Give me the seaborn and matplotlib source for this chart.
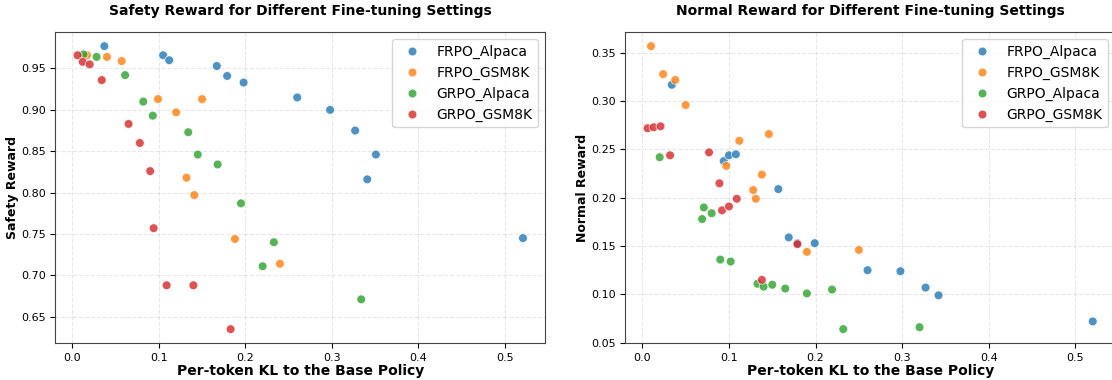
import numpy as np
import pandas as pd
import matplotlib
matplotlib.use("Agg")
import matplotlib.pyplot as plt
import seaborn as sns

methods = ["FRPO_Alpaca", "FRPO_GSM8K", "GRPO_Alpaca", "GRPO_GSM8K"]

# Safety panel
safety_frpo_alpaca_kl = [0.037, 0.105, 0.112, 0.167, 0.179, 0.198, 0.260, 0.298, 0.327, 0.351, 0.341, 0.521]
safety_frpo_alpaca_r = [0.977, 0.966, 0.960, 0.953, 0.941, 0.933, 0.915, 0.900, 0.875, 0.846, 0.816, 0.745]
safety_frpo_gsm_kl = [0.017, 0.040, 0.057, 0.099, 0.150, 0.120, 0.132, 0.141, 0.188, 0.240]
safety_frpo_gsm_r = [0.966, 0.964, 0.959, 0.913, 0.913, 0.897, 0.818, 0.797, 0.744, 0.714]
safety_grpo_alpaca_kl = [0.013, 0.028, 0.061, 0.082, 0.093, 0.134, 0.145, 0.168, 0.195, 0.233, 0.220, 0.334]
safety_grpo_alpaca_r = [0.967, 0.964, 0.942, 0.910, 0.893, 0.873, 0.846, 0.834, 0.787, 0.740, 0.711, 0.671]
safety_grpo_gsm_kl = [0.006, 0.012, 0.020, 0.034, 0.065, 0.078, 0.090, 0.094, 0.109, 0.140, 0.183]
safety_grpo_gsm_r = [0.966, 0.958, 0.955, 0.936, 0.883, 0.860, 0.826, 0.757, 0.688, 0.688, 0.635]

# Normal panel
normal_frpo_alpaca_kl = [0.034, 0.094, 0.100, 0.108, 0.157, 0.169, 0.179, 0.199, 0.260, 0.298, 0.327, 0.342, 0.520]
normal_frpo_alpaca_r = [0.317, 0.238, 0.244, 0.245, 0.209, 0.159, 0.153, 0.153, 0.125, 0.124, 0.107, 0.099, 0.072]
normal_frpo_gsm_kl = [0.010, 0.024, 0.038, 0.050, 0.146, 0.112, 0.097, 0.138, 0.128, 0.131, 0.190, 0.250]
normal_frpo_gsm_r = [0.357, 0.328, 0.322, 0.296, 0.266, 0.259, 0.233, 0.224, 0.208, 0.199, 0.144, 0.146]
normal_grpo_alpaca_kl = [0.020, 0.071, 0.080, 0.069, 0.090, 0.102, 0.133, 0.140, 0.150, 0.165, 0.190, 0.219, 0.232, 0.320]
normal_grpo_alpaca_r = [0.242, 0.190, 0.184, 0.178, 0.136, 0.134, 0.111, 0.108, 0.110, 0.106, 0.101, 0.105, 0.064, 0.066]
normal_grpo_gsm_kl = [0.006, 0.013, 0.021, 0.032, 0.077, 0.089, 0.109, 0.092, 0.100, 0.179, 0.138]
normal_grpo_gsm_r = [0.272, 0.273, 0.274, 0.244, 0.247, 0.215, 0.199, 0.187, 0.191, 0.152, 0.115]


def frame(groups):
    rows = []
    for name, (kl, r) in zip(methods, groups):
        for a, b in zip(kl, r):
            rows.append({"kl": a, "reward": b, "method": name})
    return pd.DataFrame(rows)


safety_df = frame([(safety_frpo_alpaca_kl, safety_frpo_alpaca_r),
                   (safety_frpo_gsm_kl, safety_frpo_gsm_r),
                   (safety_grpo_alpaca_kl, safety_grpo_alpaca_r),
                   (safety_grpo_gsm_kl, safety_grpo_gsm_r)])
normal_df = frame([(normal_frpo_alpaca_kl, normal_frpo_alpaca_r),
                   (normal_frpo_gsm_kl, normal_frpo_gsm_r),
                   (normal_grpo_alpaca_kl, normal_grpo_alpaca_r),
                   (normal_grpo_gsm_kl, normal_grpo_gsm_r)])

plt.rcParams["font.family"] = ["DejaVu Sans"]
palette = dict(zip(methods, ["#1f77b4", "#ff7f0e", "#2ca02c", "#d62728"]))

fig = plt.figure(figsize=(11.12, 3.8), dpi=100)
ax1 = fig.add_axes([0.0497, 0.0966, 0.4406, 0.8192])
ax2 = fig.add_axes([0.5623, 0.0966, 0.4404, 0.8192])

panels = [
    (ax1, safety_df, "Safety Reward", "Safety Reward for Different Fine-tuning Settings"),
    (ax2, normal_df, "Normal Reward", "Normal Reward for Different Fine-tuning Settings"),
]
for ax, df, ylab, title in panels:
    sns.scatterplot(data=df, x="kl", y="reward", hue="method", hue_order=methods,
                    palette=palette, s=40, alpha=0.8, edgecolor="white", linewidth=0.6, ax=ax)
    ax.grid(True, linestyle="--", alpha=0.3)
    ax.set_axisbelow(True)
    ax.set_xlabel("Per-token KL to the Base Policy", fontsize=10, fontweight="bold", labelpad=1)
    ax.set_ylabel(ylab, fontsize=9, fontweight="bold", labelpad=1)
    ax.set_title(title, fontsize=10, fontweight="bold", pad=12)
    ax.tick_params(labelsize=8)
    for sp in ax.spines.values():
        sp.set_color("#444444")
    ax.legend(loc="upper right", fontsize=10, title=None)

fig.savefig("out.png", dpi=100)
